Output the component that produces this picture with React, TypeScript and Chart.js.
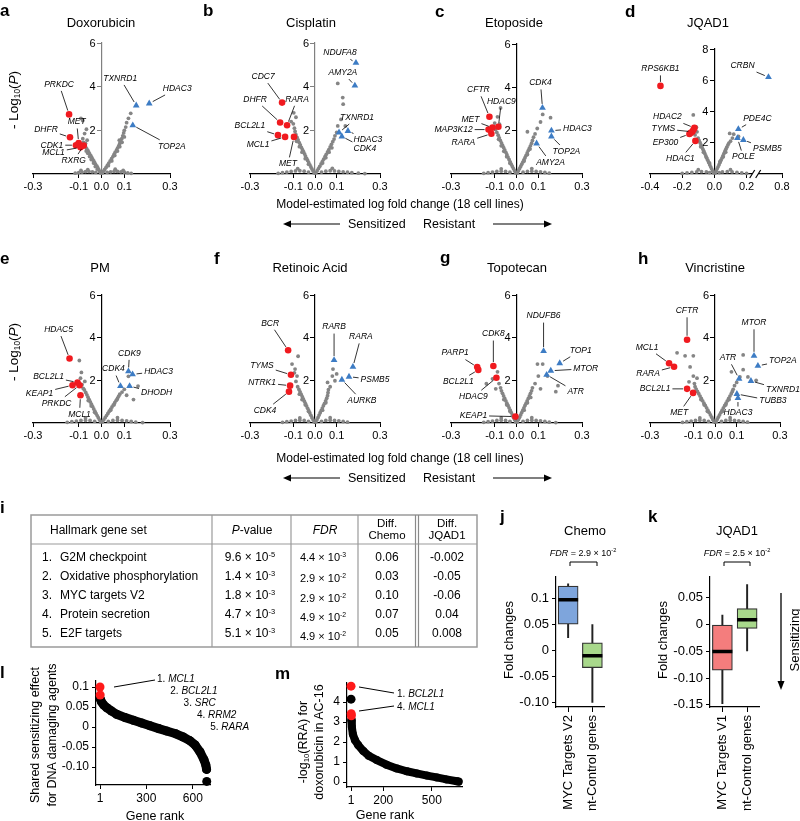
import React, { useEffect, useRef } from "react";
import { Chart, registerables } from "chart.js";

Chart.register(...registerables);

const FONT = "'Liberation Sans', Arial, Helvetica, sans-serif";
Chart.defaults.font.family = FONT;
Chart.defaults.color = "#000";

const RED = "#f01a1f";
const BLUE = "#3d7cc4";
const GREY = "#858585";

type Hit = [string, number, number];
type P = [number, number];

// ---------------- a. Doxorubicin
const doxSens: Hit[] = [["PRKDC", -0.142, 2.73], ["DHFR", -0.138, 1.68], ["MET", -0.1, 1.42], ["CDK1", -0.112, 1.32], ["MCL1", -0.092, 1.22], ["RXRG", -0.078, 1.3]];
const doxRes: Hit[] = [["TXNRD1", 0.152, 3.14], ["HDAC3", 0.209, 3.23], ["TOP2A", 0.137, 2.23]];
const doxGrey: P[] = [
  [-0.004, 0.05], [-0.008, 0.12], [-0.012, 0.2], [-0.016, 0.28], [-0.02, 0.36], [-0.026, 0.44], [-0.03, 0.52], [-0.034, 0.6], [-0.039, 0.68], [-0.043, 0.76], [-0.047, 0.84], [-0.052, 0.92], [-0.056, 1.0], [-0.06, 1.08], [-0.065, 1.16], [-0.07, 1.25], [-0.074, 1.34], [-0.079, 1.45],
  [-0.018, 0.22], [-0.027, 0.34], [-0.035, 0.5], [-0.045, 0.66], [-0.052, 0.8], [-0.06, 0.95], [-0.067, 1.05], [-0.07, 1.4], [-0.063, 1.55], [-0.082, 1.62], [-0.074, 1.85], [-0.066, 2.05], [-0.09, 2.55], [-0.082, 2.45],
  [0.004, 0.05], [0.009, 0.13], [0.014, 0.21], [0.02, 0.3], [0.026, 0.4], [0.032, 0.5], [0.038, 0.6], [0.044, 0.7], [0.05, 0.8], [0.055, 0.9], [0.06, 1.0], [0.066, 1.1], [0.071, 1.2], [0.076, 1.3], [0.08, 1.4], [0.085, 1.5], [0.089, 1.62], [0.093, 1.75], [0.097, 1.88], [0.1, 2.0],
  [0.03, 0.38], [0.045, 0.6], [0.058, 0.85], [0.07, 1.05], [0.08, 1.25], [0.09, 1.45], [0.078, 1.55], [0.106, 2.15], [0.11, 2.35], [0.118, 2.55], [0.128, 2.78], [0.1, 1.7],
  [-0.115, 0.04], [-0.1, 0.06], [-0.085, 0.09], [-0.07, 0.11], [-0.055, 0.12], [-0.04, 0.1], [-0.025, 0.07], [0.025, 0.07], [0.04, 0.1], [0.055, 0.12], [0.07, 0.12], [0.085, 0.1], [0.1, 0.08], [0.115, 0.05], [0.13, 0.03], [-0.06, 0.2], [0.06, 0.22], [-0.09, 0.16], [0.095, 0.17],
];

// ---------------- b. Cisplatin
const cisSens: Hit[] = [["CDC7", -0.152, 3.27], ["DHFR", -0.161, 2.36], ["RARA", -0.129, 2.23], ["BCL2L1", -0.171, 1.78], ["MCL1", -0.138, 1.7], ["MET", -0.097, 1.7]];
const cisRes: Hit[] = [["NDUFA8", 0.189, 5.09], ["AMY2A", 0.184, 4.05], ["TXNRD1", 0.111, 1.9], ["HDAC3", 0.152, 1.97], ["CDK4", 0.124, 1.72]];
const cisGrey: P[] = [
  [-0.004, 0.05], [-0.009, 0.14], [-0.014, 0.23], [-0.019, 0.32], [-0.024, 0.42], [-0.029, 0.52], [-0.034, 0.62], [-0.039, 0.72], [-0.044, 0.82], [-0.048, 0.92], [-0.053, 1.02], [-0.058, 1.12], [-0.063, 1.22], [-0.068, 1.33], [-0.073, 1.44], [-0.078, 1.56], [-0.083, 1.68], [-0.088, 1.8], [-0.092, 1.95],
  [-0.03, 0.45], [-0.045, 0.7], [-0.06, 1.0], [-0.072, 1.25], [-0.085, 1.5], [-0.095, 2.1], [-0.1, 2.3], [-0.098, 2.8], [-0.088, 2.6], [-0.11, 2.4],
  [0.004, 0.05], [0.01, 0.15], [0.016, 0.25], [0.022, 0.35], [0.028, 0.46], [0.034, 0.57], [0.04, 0.68], [0.046, 0.79], [0.052, 0.9], [0.058, 1.01], [0.064, 1.12], [0.07, 1.24], [0.076, 1.36], [0.082, 1.48], [0.088, 1.6],
  [0.035, 0.5], [0.05, 0.75], [0.065, 1.0], [0.078, 1.2], [0.092, 1.75], [0.1, 1.9], [0.105, 2.2], [0.12, 2.5], [0.13, 3.2], [0.128, 3.5], [0.105, 4.15], [0.14, 2.2],
  [-0.17, 0.03], [-0.15, 0.06], [-0.13, 0.09], [-0.11, 0.12], [-0.09, 0.14], [-0.07, 0.15], [-0.05, 0.13], [-0.03, 0.09], [0.03, 0.09], [0.05, 0.13], [0.07, 0.15], [0.09, 0.14], [0.11, 0.12], [0.13, 0.1], [0.15, 0.08], [0.17, 0.06], [0.2, 0.04], [0.23, 0.02], [-0.08, 0.25], [0.08, 0.26],
];

// ---------------- c. Etoposide
const etoSens: Hit[] = [["CFTR", -0.124, 2.64], ["HDAC9", -0.083, 2.18], ["MET", -0.11, 2.14], ["MAP3K12", -0.128, 2.05], ["RARA", -0.115, 1.86]];
const etoRes: Hit[] = [["CDK4", 0.119, 3.05], ["HDAC3", 0.16, 2.0], ["TOP2A", 0.16, 1.73], ["AMY2A", 0.092, 1.41]];
const etoGrey: P[] = [
  [-0.004, 0.05], [-0.009, 0.15], [-0.014, 0.25], [-0.019, 0.35], [-0.024, 0.45], [-0.029, 0.56], [-0.034, 0.67], [-0.039, 0.78], [-0.044, 0.89], [-0.049, 1.0], [-0.054, 1.11], [-0.059, 1.22], [-0.064, 1.33], [-0.069, 1.44], [-0.074, 1.55], [-0.079, 1.67], [-0.084, 1.79], [-0.09, 1.92], [-0.096, 2.05],
  [-0.03, 0.5], [-0.045, 0.8], [-0.058, 1.05], [-0.07, 1.3], [-0.082, 1.6], [-0.073, 3.05], [-0.087, 2.64], [-0.1, 2.35], [-0.078, 2.3],
  [0.004, 0.05], [0.009, 0.15], [0.014, 0.25], [0.019, 0.35], [0.024, 0.45], [0.029, 0.55], [0.034, 0.65], [0.039, 0.75], [0.044, 0.86], [0.049, 0.97], [0.054, 1.08], [0.059, 1.19], [0.064, 1.3], [0.069, 1.42], [0.073, 1.55],
  [0.035, 0.6], [0.05, 0.9], [0.062, 1.15], [0.078, 1.7], [0.05, 1.95], [0.11, 2.4], [0.156, 2.6], [0.12, 2.75], [0.085, 1.85], [0.095, 2.1],
  [-0.15, 0.03], [-0.13, 0.06], [-0.11, 0.09], [-0.09, 0.12], [-0.07, 0.13], [-0.05, 0.12], [-0.03, 0.08], [0.03, 0.08], [0.05, 0.12], [0.07, 0.13], [0.09, 0.12], [0.11, 0.1], [0.13, 0.07], [0.15, 0.04], [-0.07, 0.24], [0.07, 0.25],
];

// ---------------- d. JQAD1
const jqSens: Hit[] = [["RPS6KB1", -0.335, 5.64], ["HDAC2", -0.124, 2.95], ["TYMS", -0.137, 2.7], ["EP300", -0.155, 2.56], ["HDAC1", -0.118, 2.12], ["", -0.148, 2.63], ["", -0.13, 2.83]];
const jqRes: Hit[] = [["CRBN", 0.68, 6.2], ["PDE4C", 0.149, 2.87], ["POLE", 0.143, 2.3], ["PSMB5", 0.18, 2.18]];
const jqGrey: P[] = [
  [-0.005, 0.07], [-0.011, 0.2], [-0.017, 0.33], [-0.023, 0.46], [-0.029, 0.6], [-0.035, 0.74], [-0.041, 0.88], [-0.047, 1.02], [-0.053, 1.16], [-0.059, 1.3], [-0.065, 1.44], [-0.071, 1.58], [-0.077, 1.72], [-0.083, 1.86], [-0.089, 2.0], [-0.095, 2.15], [-0.101, 2.3],
  [-0.03, 0.7], [-0.05, 1.05], [-0.068, 1.4], [-0.085, 1.75], [-0.131, 3.78], [-0.112, 3.0], [-0.12, 2.5], [-0.108, 2.7],
  [0.005, 0.07], [0.011, 0.2], [0.017, 0.33], [0.023, 0.46], [0.029, 0.6], [0.035, 0.74], [0.041, 0.88], [0.047, 1.02], [0.053, 1.16], [0.059, 1.3], [0.065, 1.44], [0.071, 1.58], [0.077, 1.72], [0.084, 1.86], [0.09, 1.98],
  [0.035, 0.8], [0.055, 1.1], [0.07, 1.4], [0.1, 2.1], [0.112, 2.3], [0.15, 2.4], [0.12, 2.55], [0.095, 2.6],
  [-0.2, 0.04], [-0.17, 0.07], [-0.14, 0.1], [-0.11, 0.13], [-0.08, 0.15], [-0.05, 0.13], [-0.03, 0.09], [0.03, 0.09], [0.05, 0.13], [0.08, 0.15], [0.11, 0.13], [0.14, 0.1], [0.17, 0.07], [0.2, 0.04], [-0.1, 0.28], [0.1, 0.28],
];

// ---------------- e. PM
const pmSens: Hit[] = [["HDAC5", -0.14, 3.02], ["BCL2L1", -0.105, 1.9], ["KEAP1", -0.127, 1.77], ["PRKDC", -0.096, 1.77], ["MCL1", -0.092, 1.3]];
const pmRes: Hit[] = [["CDK9", 0.118, 2.42], ["HDAC3", 0.136, 2.28], ["CDK4", 0.083, 1.73], ["DHODH", 0.123, 1.73]];
const pmGrey: P[] = [
  [-0.004, 0.05], [-0.009, 0.15], [-0.014, 0.25], [-0.019, 0.35], [-0.024, 0.45], [-0.029, 0.55], [-0.034, 0.66], [-0.039, 0.77], [-0.044, 0.88], [-0.049, 0.99], [-0.054, 1.1], [-0.059, 1.21], [-0.064, 1.32], [-0.069, 1.43], [-0.075, 1.55],
  [-0.03, 0.5], [-0.045, 0.8], [-0.058, 1.05], [-0.08, 1.62], [-0.097, 2.93], [-0.088, 2.37], [-0.073, 1.95], [-0.085, 1.8], [-0.092, 2.1],
  [0.004, 0.05], [0.01, 0.15], [0.016, 0.25], [0.022, 0.35], [0.028, 0.45], [0.034, 0.55], [0.04, 0.65], [0.046, 0.75], [0.052, 0.85], [0.058, 0.95], [0.064, 1.05], [0.07, 1.15], [0.075, 1.25], [0.08, 1.35],
  [0.04, 0.6], [0.055, 0.85], [0.068, 1.1], [0.1, 1.58], [0.16, 1.73], [0.14, 1.1], [0.118, 2.19], [0.09, 1.45], [0.11, 1.3],
  [-0.15, 0.03], [-0.13, 0.06], [-0.11, 0.09], [-0.09, 0.12], [-0.07, 0.13], [-0.05, 0.12], [-0.03, 0.08], [0.03, 0.08], [0.05, 0.12], [0.07, 0.13], [0.09, 0.12], [0.11, 0.1], [0.13, 0.07], [0.15, 0.04], [0.18, 0.02], [-0.07, 0.24], [0.07, 0.25],
];

// ---------------- f. Retinoic Acid
const raSens: Hit[] = [["BCR", -0.124, 3.41], ["TYMS", -0.111, 2.26], ["NTRK1", -0.115, 1.75], ["CDK4", -0.12, 1.47]];
const raRes: Hit[] = [["RARB", 0.088, 2.95], ["RARA", 0.175, 2.63], ["PSMB5", 0.157, 2.17], ["AURKB", 0.124, 2.03]];
const raGrey: P[] = [
  [-0.004, 0.05], [-0.009, 0.15], [-0.014, 0.25], [-0.019, 0.36], [-0.024, 0.47], [-0.029, 0.58], [-0.034, 0.69], [-0.039, 0.8], [-0.044, 0.91], [-0.049, 1.02], [-0.054, 1.13], [-0.059, 1.24], [-0.064, 1.35], [-0.069, 1.46], [-0.074, 1.57], [-0.08, 1.7],
  [-0.03, 0.55], [-0.045, 0.85], [-0.06, 1.1], [-0.072, 1.35], [-0.078, 3.13], [-0.092, 2.53], [-0.083, 2.2], [-0.106, 2.76], [-0.088, 1.95], [-0.095, 2.35],
  [0.004, 0.05], [0.009, 0.15], [0.014, 0.26], [0.019, 0.37], [0.024, 0.48], [0.029, 0.59], [0.034, 0.7], [0.039, 0.81], [0.044, 0.92], [0.049, 1.04], [0.054, 1.16], [0.058, 1.28], [0.06, 1.42], [0.062, 1.56],
  [0.035, 0.6], [0.05, 0.95], [0.083, 2.53], [0.1, 2.3], [0.092, 1.98], [0.058, 1.9], [0.08, 2.2], [0.07, 1.7],
  [-0.15, 0.03], [-0.13, 0.06], [-0.11, 0.09], [-0.09, 0.12], [-0.07, 0.13], [-0.05, 0.12], [-0.03, 0.08], [0.03, 0.08], [0.05, 0.12], [0.07, 0.13], [0.09, 0.12], [0.11, 0.1], [0.13, 0.07], [0.15, 0.04], [-0.07, 0.24], [0.07, 0.25],
];

// ---------------- g. Topotecan
const topoSens: Hit[] = [["CDK8", -0.106, 2.67], ["PARP1", -0.18, 2.62], ["BCL2L1", -0.175, 2.49], ["HDAC9", -0.092, 2.12], ["KEAP1", -0.005, 0.3]];
const topoRes: Hit[] = [["NDUFB6", 0.124, 3.37], ["TOP1", 0.198, 2.8], ["MTOR", 0.157, 2.45], ["ATR", 0.138, 2.26]];
const topoGrey: P[] = [
  [-0.004, 0.05], [-0.009, 0.16], [-0.014, 0.27], [-0.019, 0.38], [-0.024, 0.49], [-0.029, 0.6], [-0.034, 0.71], [-0.039, 0.82], [-0.044, 0.93], [-0.049, 1.04], [-0.054, 1.15], [-0.059, 1.27], [-0.064, 1.39], [-0.069, 1.51], [-0.073, 1.65],
  [-0.03, 0.55], [-0.045, 0.85], [-0.058, 1.1], [-0.138, 1.84], [-0.11, 2.07], [-0.087, 2.4], [-0.08, 1.85], [-0.095, 1.6],
  [0.004, 0.05], [0.009, 0.16], [0.014, 0.27], [0.019, 0.38], [0.024, 0.49], [0.029, 0.6], [0.034, 0.71], [0.039, 0.82], [0.044, 0.93], [0.049, 1.04], [0.054, 1.15], [0.059, 1.27], [0.064, 1.39], [0.069, 1.51], [0.073, 1.65],
  [0.035, 0.6], [0.05, 0.95], [0.065, 1.2], [0.096, 2.76], [0.12, 2.76], [0.142, 2.2], [0.18, 1.47], [0.1, 2.2], [0.19, 1.75], [0.085, 1.85], [0.11, 1.6],
  [-0.15, 0.03], [-0.13, 0.06], [-0.11, 0.09], [-0.09, 0.12], [-0.07, 0.13], [-0.05, 0.12], [-0.03, 0.08], [0.03, 0.08], [0.05, 0.12], [0.07, 0.13], [0.09, 0.12], [0.11, 0.1], [0.13, 0.07], [0.15, 0.04], [0.18, 0.02], [-0.07, 0.24], [0.07, 0.25],
];

// ---------------- h. Vincristine
const vinSens: Hit[] = [["CFTR", -0.129, 3.9], ["MCL1", -0.212, 2.8], ["RARA", -0.189, 2.64], ["BCL2L1", -0.129, 1.6], ["MET", -0.101, 1.41]];
const vinRes: Hit[] = [["MTOR", 0.18, 3.15], ["TOP2A", 0.198, 2.68], ["ATR", 0.111, 2.07], ["TXNRD1", 0.166, 1.97], ["TUBB3", 0.101, 1.36], ["HDAC3", 0.106, 1.17]];
const vinGrey: P[] = [
  [-0.005, 0.05], [-0.01, 0.16], [-0.015, 0.27], [-0.021, 0.38], [-0.027, 0.49], [-0.033, 0.6], [-0.039, 0.71], [-0.045, 0.82], [-0.051, 0.93], [-0.057, 1.04], [-0.063, 1.15], [-0.069, 1.26], [-0.075, 1.37], [-0.081, 1.48], [-0.087, 1.59], [-0.092, 1.7],
  [-0.035, 0.55], [-0.05, 0.85], [-0.065, 1.1], [-0.175, 3.29], [-0.138, 3.15], [-0.1, 3.15], [-0.115, 2.63], [-0.1, 2.2], [-0.083, 2.1], [-0.12, 1.93], [-0.095, 1.85],
  [0.005, 0.05], [0.01, 0.16], [0.015, 0.27], [0.021, 0.38], [0.027, 0.49], [0.033, 0.6], [0.039, 0.71], [0.045, 0.82], [0.051, 0.93], [0.057, 1.04], [0.063, 1.15], [0.069, 1.26], [0.075, 1.37], [0.08, 1.48], [0.084, 1.58],
  [0.035, 0.55], [0.05, 0.85], [0.065, 1.1], [0.13, 3.19], [0.13, 2.5], [0.152, 2.16], [0.115, 2.16], [0.19, 2.0], [0.076, 2.4], [0.09, 1.75], [0.1, 1.9],
  [-0.15, 0.03], [-0.13, 0.06], [-0.11, 0.09], [-0.09, 0.12], [-0.07, 0.13], [-0.05, 0.12], [-0.03, 0.08], [0.03, 0.08], [0.05, 0.12], [0.07, 0.13], [0.09, 0.12], [0.11, 0.1], [0.13, 0.07], [0.15, 0.04], [-0.07, 0.24], [0.07, 0.25],
];

const volcanoXTicks = [-0.3, -0.1, 0, 0.1, 0.3];
const jqadXTicks = [-0.4, -0.2, 0, 0.2, 0.8];
const volcanoYTicks = [2, 4, 6];
const jqadYTicks = [2, 4, 6, 8];

// ---------------- i. table
const hallmarkSets = ["G2M checkpoint", "Oxidative phosphorylation", "MYC targets V2", "Protein secretion", "E2F targets"];
const pMantissa = ["9.6", "1.4", "1.8", "4.7", "5.1"];
const pExponent = ["-5", "-3", "-3", "-3", "-3"];
const fdrMantissa = ["4.4", "2.9", "2.9", "4.9", "4.9"];
const fdrExponent = ["-3", "-2", "-2", "-2", "-2"];
const diffChemo = ["0.06", "0.03", "0.10", "0.07", "0.05"];
const diffJQAD1 = ["-0.002", "-0.05", "-0.06", "0.04", "0.008"];

// ---------------- j / k box plots
const chemoGroups = ["MYC Targets V2", "nt-Control genes"];
const chemoLow = [0.025, -0.1];
const chemoQ1 = [0.051, -0.033];
const chemoMedian = [0.098, -0.01];
const chemoQ3 = [0.1245, 0.015];
const chemoHigh = [0.129, 0.05];
const chemoYTicks = [0.1, 0.05, 0, -0.05, -0.1];

const jqadGroups = ["MYC Targets V1", "nt-Control genes"];
const jqadLow = [-0.148, -0.049];
const jqadQ1 = [-0.085, -0.007];
const jqadMedian = [-0.05, 0.009];
const jqadQ3 = [0.0, 0.03];
const jqadHigh = [0.018, 0.075];
const jqadBoxYTicks = [0.05, 0, -0.05, -0.1, -0.15];

// ---------------- l. shared sensitizing effect
const lRedPts: P[] = [[1, 0.1], [2, 0.08]];
const lOutlier: P[] = [[690, -0.136]];
const lCurve: P[] = [[3, 0.07], [10, 0.063], [25, 0.055], [45, 0.048], [75, 0.04], [108, 0.032], [160, 0.024], [216, 0.017], [270, 0.01], [324, 0.003], [380, -0.004], [431, -0.01], [490, -0.017], [538, -0.025], [580, -0.034], [615, -0.045], [646, -0.062], [672, -0.082], [684, -0.095], [689, -0.106]];
const lXTicks = [1, 300, 600];
const lYTicks = [0.1, 0.05, 0, -0.05, -0.1];
const lTopGenes = ["MCL1", "BCL2L1", "SRC", "RRM2", "RARA"];

// ---------------- m. RRA doxorubicin AC-16
const mRedPts: P[] = [[1, 4.8], [2, 3.42], [3, 3.32]];
const mBlackTop: P[] = [[1, 4.15]];
const mCurve: P[] = [[3, 3.1], [6, 2.75], [12, 2.4], [25, 2.1], [45, 1.85], [77, 1.55], [110, 1.32], [160, 1.1], [220, 0.87], [283, 0.68], [345, 0.54], [406, 0.43], [470, 0.32], [530, 0.23], [590, 0.13], [654, 0.04], [665, 0.02]];
const mXTicks = [1, 200, 500];
const mYTicks = [0, 1, 2, 3, 4];

// ---------------- layout (positions / styles)
type VPanel = { key: string; sens: Hit[]; res: Hit[]; grey: P[] };
const VOLCANOES: VPanel[] = [
  { key: "a", sens: doxSens, res: doxRes, grey: doxGrey },
  { key: "b", sens: cisSens, res: cisRes, grey: cisGrey },
  { key: "c", sens: etoSens, res: etoRes, grey: etoGrey },
  { key: "d", sens: jqSens, res: jqRes, grey: jqGrey },
  { key: "e", sens: pmSens, res: pmRes, grey: pmGrey },
  { key: "f", sens: raSens, res: raRes, grey: raGrey },
  { key: "g", sens: topoSens, res: topoRes, grey: topoGrey },
  { key: "h", sens: vinSens, res: vinRes, grey: vinGrey },
];

const VLAYOUT: Record<string, any> = {
  a: { cl: 0, ct: 25, area: [33, 43, 170, 174], axisColor: "#808080" },
  b: { cl: 200, ct: 25, area: [250, 43, 380, 174], axisColor: "#808080" },
  c: { cl: 400, ct: 25, area: [451, 44, 582, 174], axisColor: "#000" },
  d: { cl: 600, ct: 25, area: [650, 49, 782, 174], axisColor: "#000", brk: true },
  e: { cl: 0, ct: 272, area: [33, 295, 170, 423], axisColor: "#000" },
  f: { cl: 200, ct: 272, area: [250, 295, 380, 423], axisColor: "#000" },
  g: { cl: 400, ct: 272, area: [451, 295, 582, 423], axisColor: "#000" },
  h: { cl: 600, ct: 272, area: [650, 295, 780, 423], axisColor: "#000" },
};

const LABEL_OFFSETS: Record<string, Record<string, [number, number]>> = {
  a: { PRKDC: [-10, -30], DHFR: [-24, -8], MET: [-2, -21], CDK1: [-24, 0], MCL1: [-27, 5], RXRG: [-10, 15], TXNRD1: [-16, -27], HDAC3: [28, -15], TOP2A: [39, 21] },
  b: { CDC7: [-19, -26], DHFR: [-25, -23], RARA: [10, -26], BCL2L1: [-28, -9], MCL1: [-27, 8], MET: [-6, 27], NDUFA8: [-16, -10], AMY2A: [-12, -13], TXNRD1: [18, -15], HDAC3: [20, 9], CDK4: [23, 12] },
  c: { CFTR: [-11, -27], HDAC9: [3, -25], MET: [-22, -8], MAP3K12: [-35, 0], RARA: [-28, 9], CDK4: [-2, -25], HDAC3: [26, -2], TOP2A: [15, 15], AMY2A: [14, 19] },
  d: { RPS6KB1: [0, -17], HDAC2: [-27, -11], TYMS: [-29, -3], EP300: [-24, 9], HDAC1: [-15, 18], CRBN: [-26, -11], PDE4C: [19, -11], POLE: [6, 19], PSMB5: [24, 9] },
  e: { HDAC5: [-11, -29], BCL2L1: [-29, -6], KEAP1: [-33, 8], PRKDC: [-23, 18], MCL1: [-1, 19], CDK9: [1, -18], HDAC3: [26, -3], CDK4: [-7, -17], DHODH: [27, 7] },
  f: { BCR: [-18, -27], TYMS: [-29, -9], NTRK1: [-28, -3], CDK4: [-24, 19], RARB: [0, -33], RARA: [8, -30], PSMB5: [26, 3], AURKB: [20, 21] },
  g: { CDK8: [0, -32], PARP1: [-22, -14], BCL2L1: [-20, 12], HDAC9: [-23, 19], KEAP1: [-42, -1], NDUFB6: [0, -35], TOP1: [21, -13], MTOR: [35, -2], ATR: [29, 17] },
  h: { CFTR: [0, -29], MCL1: [-22, -16], RARA: [-26, 7], BCL2L1: [-32, 0], MET: [-14, 20], MTOR: [0, -33], TOP2A: [25, -5], ATR: [-11, -21], TXNRD1: [32, 9], TUBB3: [36, 7], HDAC3: [0, 15] },
};

// broken x axis of panel d (0.2 // 0.8)
const brk = (v: number) => (v > 0.3 ? 0.28 + (v - 0.6) * 0.7 : v);
const fmt1 = (v: number) => (Math.abs(v) < 1e-9 ? "0.0" : v.toFixed(1));

const baseOpts = {
  responsive: false,
  animation: false,
  events: [] as any[],
  plugins: { legend: { display: false }, tooltip: { enabled: false } },
};

function buildVolcano(v: VPanel) {
  const L = VLAYOUT[v.key];
  const [al, at, ar] = L.area;
  const tx = L.brk ? brk : (n: number) => n;
  const xTicks = L.brk ? jqadXTicks : volcanoXTicks;
  const yTicks = L.brk ? jqadYTicks : volcanoYTicks;
  const offs = LABEL_OFFSETS[v.key];
  const plugin = {
    id: "volcanoExtras",
    afterDraw(chart: any) {
      const ctx = chart.ctx;
      const xs = chart.scales.x;
      const ys = chart.scales.y;
      const x0 = xs.getPixelForValue(0);
      ctx.save();
      ctx.font = `11px ${FONT}`;
      ctx.fillStyle = "#000";
      ctx.textAlign = "right";
      ctx.textBaseline = "middle";
      ys.ticks.forEach((t: any) => ctx.fillText(String(t.value), x0 - 6, ys.getPixelForValue(t.value) + 0.5));
      if (L.brk) {
        const a = xs.getPixelForValue(0.235);
        const b = xs.getPixelForValue(0.272);
        const yb = xs.top;
        ctx.fillStyle = "#fff";
        ctx.fillRect(a, yb - 3, b - a, 6);
        ctx.strokeStyle = "#000";
        ctx.lineWidth = 1.2;
        [a, b].forEach((px) => {
          ctx.beginPath();
          ctx.moveTo(px - 2.5, yb + 4);
          ctx.lineTo(px + 2.5, yb - 4);
          ctx.stroke();
        });
      }
      ctx.font = `italic 8.5px ${FONT}`;
      ctx.fillStyle = "#000";
      ctx.strokeStyle = "#000";
      ctx.lineWidth = 0.8;
      ctx.textAlign = "center";
      ([[0, v.res], [1, v.sens]] as [number, Hit[]][]).forEach(([di, hits]) => {
        const meta = chart.getDatasetMeta(di);
        hits.forEach((h, i) => {
          const name = h[0];
          const off = offs[name];
          if (!name || !off) return;
          const el = meta.data[i];
          const cx = el.x + off[0];
          const cy = el.y + off[1];
          const w = ctx.measureText(name).width;
          ctx.fillText(name, cx, cy);
          const vx = el.x - cx;
          const vy = el.y - cy;
          const t = Math.min(vx !== 0 ? (w / 2 + 2) / Math.abs(vx) : Infinity, vy !== 0 ? 6.5 / Math.abs(vy) : Infinity);
          if (t < 1) {
            const len = Math.hypot(vx, vy);
            ctx.beginPath();
            ctx.moveTo(cx + vx * t, cy + vy * t);
            ctx.lineTo(el.x - (vx / len) * 4, el.y - (vy / len) * 4);
            ctx.stroke();
          }
        });
      });
      ctx.restore();
    },
  };
  return {
    type: "scatter",
    data: {
      datasets: [
        { data: v.res.map((h) => ({ x: tx(h[1]), y: h[2] })), pointStyle: "triangle", pointRadius: 3.9, pointBackgroundColor: BLUE, pointBorderWidth: 0, clip: false },
        { data: v.sens.map((h) => ({ x: tx(h[1]), y: h[2] })), pointStyle: "circle", pointRadius: 3.3, pointBackgroundColor: RED, pointBorderWidth: 0, clip: false },
        { data: v.grey.map((p) => ({ x: tx(p[0]), y: p[1] })), pointStyle: "circle", pointRadius: 1.9, pointBackgroundColor: GREY, pointBorderWidth: 0, clip: false },
      ],
    },
    options: {
      ...baseOpts,
      layout: { padding: { left: al - L.cl, right: L.cl + 200 - ar, top: at - L.ct, bottom: 0 } },
      scales: {
        x: {
          type: "linear",
          position: "bottom",
          min: L.brk ? -0.4 : -0.3,
          max: L.brk ? 0.42 : 0.3,
          afterBuildTicks: (s: any) => { s.ticks = xTicks.map((t) => ({ value: tx(t) })); },
          afterFit: (s: any) => { s.height = 18; },
          ticks: { font: { size: 11 }, color: "#000", padding: 2, maxRotation: 0, minRotation: 0, autoSkip: false, callback: (_v: any, i: number) => fmt1(xTicks[i]) },
          grid: { display: true, drawOnChartArea: false, drawTicks: true, tickLength: 4, color: "#000", lineWidth: 1 },
          border: { display: true, color: "#000", width: 1.2 },
        },
        y: {
          type: "linear",
          position: { x: 0 },
          min: 0,
          max: L.brk ? 8 : 6,
          afterBuildTicks: (s: any) => { s.ticks = yTicks.map((t) => ({ value: t })); },
          ticks: { display: false },
          grid: { display: true, drawOnChartArea: false, drawTicks: true, tickLength: 4, color: L.axisColor, lineWidth: 1 },
          border: { display: true, color: L.axisColor, width: 1.2 },
        },
      },
    },
    plugins: [plugin],
  };
}

const axisX = (ticks: number[], height: number, extra: any = {}) => ({
  type: "linear",
  afterBuildTicks: (s: any) => { s.ticks = ticks.map((t) => ({ value: t })); },
  afterFit: (s: any) => { s.height = height; },
  ticks: { font: { size: 12 }, color: "#000", padding: 2, maxRotation: 0, minRotation: 0, autoSkip: false },
  grid: { display: true, drawOnChartArea: false, drawTicks: true, tickLength: 4, color: "#000" },
  border: { display: true, color: "#000", width: 1.2 },
  ...extra,
});

const axisY = (ticks: number[], width: number, labels: (v: number) => string, size: number, extra: any = {}) => ({
  type: "linear",
  afterBuildTicks: (s: any) => { s.ticks = ticks.map((t) => ({ value: t })); },
  afterFit: (s: any) => { s.width = width; },
  ticks: { font: { size }, color: "#000", padding: 3, autoSkip: false, callback: (v: any) => labels(v) },
  grid: { display: true, drawOnChartArea: false, drawTicks: true, tickLength: 4, color: "#000" },
  border: { display: true, color: "#000", width: 1.2 },
  ...extra,
});

const decLabel = (v: number) => (v === 0 ? "0" : v === -0.1 ? "-0.10" : v === -0.15 ? "-0.15" : String(v));

function buildL() {
  const pt = (p: P) => ({ x: p[0], y: p[1] });
  return {
    type: "scatter",
    data: {
      datasets: [
        { data: lRedPts.map(pt), pointRadius: 4.5, pointBackgroundColor: "#ff1a1a", pointBorderWidth: 0, clip: false },
        { data: lOutlier.map(pt), pointRadius: 4.5, pointBackgroundColor: "#000", pointBorderWidth: 0, clip: false },
        { data: lCurve.map(pt), showLine: true, borderColor: "#000", borderWidth: 9, borderCapStyle: "round", borderJoinStyle: "round", pointRadius: 4.5, pointBackgroundColor: "#000", pointBorderWidth: 0, clip: false },
      ],
    },
    options: {
      ...baseOpts,
      layout: { padding: { left: 0, right: 10, top: 11, bottom: 0 } },
      scales: {
        x: axisX(lXTicks, 20, { min: -25, max: 711 }),
        y: axisY(lYTicks, 56, decLabel, 12, { min: -0.145, max: 0.115 }),
      },
    },
  };
}

function buildM() {
  const pt = (p: P) => ({ x: p[0], y: p[1] });
  return {
    type: "scatter",
    data: {
      datasets: [
        { data: mRedPts.map(pt), pointRadius: 4.5, pointBackgroundColor: "#ff1a1a", pointBorderWidth: 0, clip: false },
        { data: mBlackTop.map(pt), pointRadius: 4.5, pointBackgroundColor: "#000", pointBorderWidth: 0, clip: false },
        { data: mCurve.map(pt), showLine: true, borderColor: "#000", borderWidth: 8, borderCapStyle: "round", borderJoinStyle: "round", pointRadius: 4, pointBackgroundColor: "#000", pointBorderWidth: 0, clip: false },
      ],
    },
    options: {
      ...baseOpts,
      layout: { padding: { left: 0, right: 10, top: 10, bottom: 0 } },
      scales: {
        x: axisX(mXTicks, 20, { min: -24, max: 686 }),
        y: axisY(mYTicks, 30, (v) => String(v), 12, { min: -0.25, max: 5.0 }),
      },
    },
  };
}

function buildBox(which: "j" | "k") {
  const j = which === "j";
  const groups = j ? chemoGroups : jqadGroups;
  const lo = j ? chemoLow : jqadLow;
  const q1 = j ? chemoQ1 : jqadQ1;
  const med = j ? chemoMedian : jqadMedian;
  const q3 = j ? chemoQ3 : jqadQ3;
  const hi = j ? chemoHigh : jqadHigh;
  const fills = j ? ["#7ea5dc", "#a8d88b"] : ["#f47d7d", "#a8d88b"];
  return {
    type: "bar",
    data: {
      labels: groups,
      datasets: [
        { type: "line", data: med, showLine: false, pointStyle: "line", pointRadius: 10, pointBorderColor: "#000", pointBorderWidth: 3.5 },
        { type: "bar", data: q1.map((q, i) => [q, q3[i]]), backgroundColor: fills, borderColor: "#333", borderWidth: 1.2, borderSkipped: false, barThickness: 20, grouped: false },
        { type: "bar", data: lo.map((l, i) => [l, hi[i]]), backgroundColor: "#222", borderWidth: 0, barThickness: 1.3, grouped: false },
      ],
    },
    options: {
      ...baseOpts,
      layout: { padding: { left: 0, right: 10, top: 10, bottom: 0 } },
      scales: {
        x: {
          type: "category",
          offset: true,
          afterFit: (s: any) => { s.height = 110; },
          ticks: { font: { size: 13 }, color: "#000", padding: 3, minRotation: 90, maxRotation: 90, autoSkip: false },
          grid: { display: true, offset: false, drawOnChartArea: false, drawTicks: true, tickLength: 5, color: "#000" },
          border: { display: true, color: "#000", width: 1.2 },
        },
        y: axisY(j ? chemoYTicks : jqadBoxYTicks, 46, decLabel, 13, j ? { min: -0.109, max: 0.143 } : { min: -0.154, max: 0.09 }),
      },
    },
  };
}

function ChartCanvas({ x, y, w, h, build }: { x: number; y: number; w: number; h: number; build: () => any }) {
  const ref = useRef<HTMLCanvasElement>(null);
  useEffect(() => {
    const c = new Chart(ref.current as HTMLCanvasElement, build());
    return () => c.destroy();
  }, []);
  return <canvas ref={ref} width={w} height={h} style={{ position: "absolute", left: x, top: y, width: w, height: h }} />;
}

function T({ x, y, s = 12, al = "l", it = false, b = false, rot = false, children }: any) {
  const tr = al === "c" ? "-50%" : al === "r" ? "-100%" : "0";
  return (
    <div
      style={{
        position: "absolute",
        left: x,
        top: y,
        fontSize: s,
        lineHeight: 1,
        whiteSpace: "nowrap",
        fontStyle: it ? "italic" : "normal",
        fontWeight: b ? 700 : 400,
        transform: rot ? "translate(-50%,-50%) rotate(-90deg)" : `translate(${tr},-50%)`,
      }}
    >
      {children}
    </div>
  );
}

const Sup = ({ children }: any) => <sup style={{ fontSize: "0.62em", verticalAlign: "0.55em", lineHeight: 0 }}>{children}</sup>;
const Sub = ({ children }: any) => <sub style={{ fontSize: "0.62em", verticalAlign: "-0.25em", lineHeight: 0 }}>{children}</sub>;

const TITLES: [string, number, number][] = [
  ["Doxorubicin", 101, 22], ["Cisplatin", 311, 22], ["Etoposide", 514, 22], ["JQAD1", 708, 22],
  ["PM", 100, 267], ["Retinoic Acid", 310, 267], ["Topotecan", 517, 267], ["Vincristine", 715, 267],
];
const LETTERS: [string, number, number][] = [
  ["a", 0, 10], ["b", 203, 10], ["c", 435, 11], ["d", 625, 11], ["e", 0, 258], ["f", 214, 258], ["g", 440, 257], ["h", 638, 258],
  ["i", 0, 507], ["j", 500, 516], ["k", 648, 516], ["l", 0, 672], ["m", 275, 673],
];
const rowYs = [0, 254];
const tableRowYs = [557, 576, 595, 614, 633];
const fdrRowYs = [557, 578, 598, 617, 636];

export default function App() {
  return (
    <div style={{ position: "absolute", left: 0, top: 0, width: 800, height: 821, background: "#fff", fontFamily: FONT, color: "#000", overflow: "hidden" }}>
      {VOLCANOES.map((v) => {
        const L = VLAYOUT[v.key];
        return <ChartCanvas key={v.key} x={L.cl} y={L.ct} w={200} h={L.area[3] + 18 - L.ct} build={() => buildVolcano(v)} />;
      })}
      <ChartCanvas x={40} y={670} w={180} h={135} build={buildL} />
      <ChartCanvas x={317} y={672} w={155} h={135} build={buildM} />
      <ChartCanvas x={510} y={563} w={108} h={254} build={() => buildBox("j")} />
      <ChartCanvas x={664} y={563} w={109} h={254} build={() => buildBox("k")} />

      <svg width={800} height={821} style={{ position: "absolute", left: 0, top: 0, pointerEvents: "none" }}>
        {rowYs.map((dy) => (
          <g key={dy} stroke="#000" fill="#000">
            <line x1={289} y1={224 + dy} x2={340} y2={224 + dy} strokeWidth={1.2} />
            <polygon points={`283,${224 + dy} 291,${220.5 + dy} 291,${227.5 + dy}`} stroke="none" />
            <line x1={493} y1={224 + dy} x2={546} y2={224 + dy} strokeWidth={1.2} />
            <polygon points={`552,${224 + dy} 544,${220.5 + dy} 544,${227.5 + dy}`} stroke="none" />
          </g>
        ))}
        <rect x={31} y={515} width={446} height={132} fill="none" stroke="#9a9a9a" strokeWidth={1.5} />
        <line x1={31} y1={544} x2={477} y2={544} stroke="#9a9a9a" strokeWidth={1.2} />
        {[212, 291, 358].map((x) => (
          <line key={x} x1={x} y1={515} x2={x} y2={647} stroke="#9a9a9a" strokeWidth={1.2} />
        ))}
        <line x1={415.5} y1={515} x2={415.5} y2={647} stroke="#8a8a8a" strokeWidth={1.2} />
        <line x1={418.5} y1={515} x2={418.5} y2={647} stroke="#8a8a8a" strokeWidth={1.2} />
        <path d="M570,566 V562 H597 V566" fill="none" stroke="#000" strokeWidth={1} />
        <path d="M724,566 V562 H750 V566" fill="none" stroke="#000" strokeWidth={1} />
        <line x1={781} y1={593} x2={781} y2={682} stroke="#000" strokeWidth={1.3} />
        <polygon points="781,690 777.5,681 784.5,681" fill="#000" />
        <line x1={114} y1={687} x2={155} y2={680} stroke="#000" strokeWidth={1} />
        <line x1={359} y1={687} x2={394} y2={693} stroke="#000" strokeWidth={1} />
        <line x1={359} y1={711} x2={394} y2={706} stroke="#000" strokeWidth={1} />
      </svg>

      {LETTERS.map(([t, x, y]) => (
        <T key={t} x={x} y={y} s={17} b>{t}</T>
      ))}
      {TITLES.map(([t, x, y]) => (
        <T key={t} x={x} y={y} s={13} al="c">{t}</T>
      ))}
      {[100, 352].map((y) => (
        <T key={y} x={14} y={y} s={13.5} rot>
          - Log<Sub>10</Sub>(<i>P</i>)
        </T>
      ))}
      {rowYs.map((dy) => (
        <React.Fragment key={dy}>
          <T x={400} y={204 + dy} s={12} al="c">Model-estimated log fold change (18 cell lines)</T>
          <T x={348} y={224 + dy} s={12.5}>Sensitized</T>
          <T x={423} y={224 + dy} s={12.5}>Resistant</T>
        </React.Fragment>
      ))}

      {/* table i */}
      <T x={50} y={530} s={12}>Hallmark gene set</T>
      <T x={252} y={530} s={12} al="c"><i>P</i>-value</T>
      <T x={325} y={530} s={12} al="c" it>FDR</T>
      <T x={387} y={524} s={11.5} al="c">Diff.</T>
      <T x={387} y={536} s={11.5} al="c">Chemo</T>
      <T x={447} y={524} s={11.5} al="c">Diff.</T>
      <T x={447} y={536} s={11.5} al="c">JQAD1</T>
      {hallmarkSets.map((name, i) => (
        <React.Fragment key={name}>
          <T x={42} y={tableRowYs[i]} s={12}>{`${i + 1}.`}</T>
          <T x={60} y={tableRowYs[i]} s={12}>{name}</T>
          <T x={250} y={tableRowYs[i]} s={12} al="c">
            {pMantissa[i]} × 10<Sup>{pExponent[i]}</Sup>
          </T>
          <T x={323} y={fdrRowYs[i]} s={11} al="c">
            {fdrMantissa[i]} × 10<Sup>{fdrExponent[i]}</Sup>
          </T>
          <T x={387} y={tableRowYs[i]} s={12} al="c">{diffChemo[i]}</T>
          <T x={447} y={tableRowYs[i]} s={12} al="c">{diffJQAD1[i]}</T>
        </React.Fragment>
      ))}

      {/* j, k */}
      <T x={585} y={530} s={13} al="c">Chemo</T>
      <T x={737} y={530} s={13} al="c">JQAD1</T>
      <T x={583} y={553} s={9} al="c"><i>FDR</i> = 2.9 × 10<Sup>-2</Sup></T>
      <T x={737} y={553} s={9} al="c"><i>FDR</i> = 2.5 × 10<Sup>-2</Sup></T>
      <T x={508} y={640} s={13} rot>Fold changes</T>
      <T x={662} y={640} s={13} rot>Fold changes</T>
      <T x={794} y={640} s={13} rot>Sensitizing</T>

      {/* l */}
      <T x={35} y={735} s={12.5} rot>Shared sensitizing effect</T>
      <T x={52} y={735} s={12.5} rot>for DNA damaging agents</T>
      <T x={155} y={816} s={12.5} al="c">Gene rank</T>
      {lTopGenes.map((g, i) => (
        <T key={g} x={157 + i * 13.3} y={679 + i * 12} s={10}>
          {`${i + 1}. `}<i>{g}</i>
        </T>
      ))}

      {/* m */}
      <T x={303} y={742} s={12.5} rot>-log<Sub>10</Sub>(RRA) for</T>
      <T x={319} y={742} s={12.5} rot>doxorubicin in AC-16</T>
      <T x={385} y={815} s={12.5} al="c">Gene rank</T>
      <T x={397} y={694} s={10}>1. <i>BCL2L1</i></T>
      <T x={397} y={707} s={10}>4. <i>MCL1</i></T>
    </div>
  );
}
